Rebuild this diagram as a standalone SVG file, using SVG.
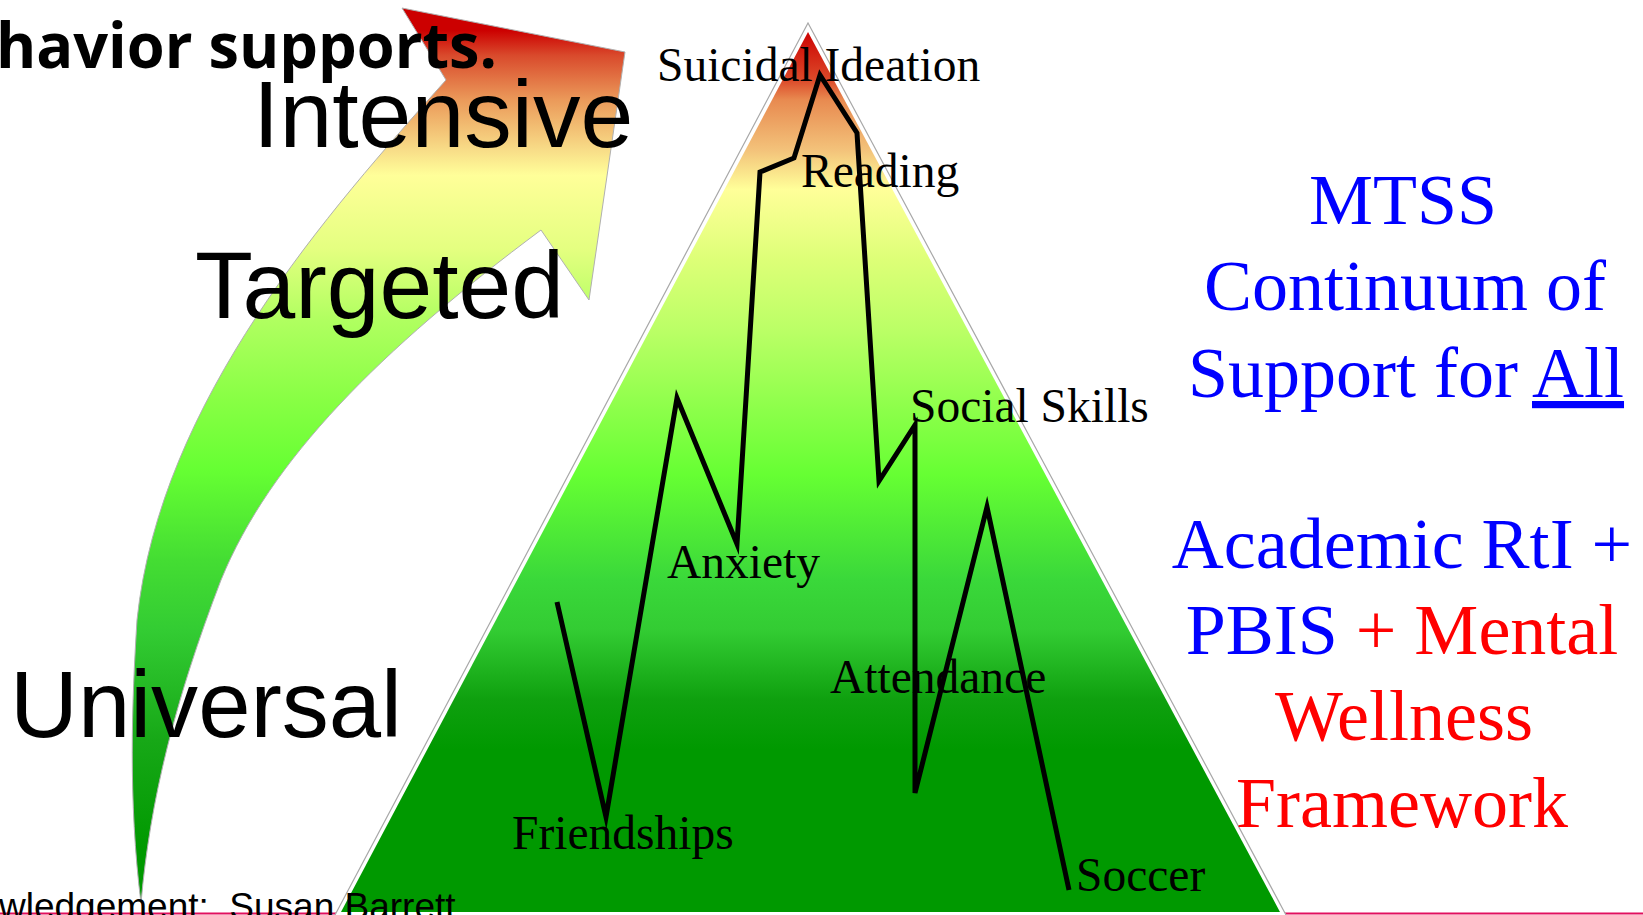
<svg xmlns="http://www.w3.org/2000/svg" width="1643" height="915" viewBox="0 0 1643 915">
  <defs>
    <!-- vertical tier colouring: red (intensive) to green (universal) -->
    <linearGradient id="arrowGrad" gradientUnits="userSpaceOnUse" x1="0" y1="8" x2="0" y2="903">
      <stop offset="0" stop-color="#cc0000"/>
      <stop offset="0.025" stop-color="#cc0000"/>
      <stop offset="0.053" stop-color="#d94a2c"/>
      <stop offset="0.103" stop-color="#eb9a5a"/>
      <stop offset="0.159" stop-color="#f8dd88"/>
      <stop offset="0.187" stop-color="#ffff99"/>
      <stop offset="0.270" stop-color="#e4ff80"/>
      <stop offset="0.349" stop-color="#b0ff60"/>
      <stop offset="0.438" stop-color="#88ff44"/>
      <stop offset="0.516" stop-color="#66ff33"/>
      <stop offset="0.617" stop-color="#44dd33"/>
      <stop offset="0.695" stop-color="#33cc33"/>
      <stop offset="0.818" stop-color="#17a817"/>
      <stop offset="0.941" stop-color="#009900"/>
      <stop offset="1" stop-color="#009900"/>
    </linearGradient>
    <linearGradient id="pyrGrad" gradientUnits="userSpaceOnUse" x1="0" y1="31" x2="0" y2="912">
      <stop offset="0" stop-color="#cc0000"/>
      <stop offset="0.056" stop-color="#dc4a2a"/>
      <stop offset="0.078" stop-color="#e88a50"/>
      <stop offset="0.135" stop-color="#f3c27a"/>
      <stop offset="0.180" stop-color="#ffff99"/>
      <stop offset="0.260" stop-color="#ddff77"/>
      <stop offset="0.339" stop-color="#bbff66"/>
      <stop offset="0.504" stop-color="#66ff33"/>
      <stop offset="0.623" stop-color="#3ad83a"/>
      <stop offset="0.680" stop-color="#33cc33"/>
      <stop offset="0.759" stop-color="#0fa00f"/>
      <stop offset="0.816" stop-color="#009900"/>
      <stop offset="1" stop-color="#009900"/>
    </linearGradient>
    <style>
      .tier { font-family: "Liberation Sans", Arial, sans-serif; font-size: 95px; fill: #000; }
      .issue { font-family: "Liberation Serif", "Times New Roman", serif; font-size: 47.5px; fill: #000; }
      .side { font-family: "Liberation Serif", "Times New Roman", serif; font-size: 72px; text-anchor: middle; }
      .blue { fill: #0000ff; }
      .red { fill: #ff0000; }
      .trend { fill: none; stroke: #000; stroke-width: 5; stroke-linejoin: miter; stroke-miterlimit: 6; }
      .edge { fill: none; stroke: #a8a8a8; stroke-width: 1.2; }
    </style>
  </defs>

  <rect width="1643" height="915" fill="#ffffff"/>

  <!-- footer rule -->
  <line x1="0" y1="913.5" x2="1643" y2="913.5" stroke="#e2105e" stroke-width="2"/>

  <!-- curved tier arrow -->
  <g id="tier-arrow">
    <path d="M 402,8 L 625,52 L 589,300 L 541,230 C 380,350 270,460 221,580 C 175,700 150,800 141,903 C 128,800 132,700 137,620 C 160,400 330,210 446,80 Z"
          fill="url(#arrowGrad)" stroke="#b0b0b0" stroke-width="1"/>
  </g>

  <!-- support pyramid -->
  <g id="pyramid">
    <polygon points="808,23 335,915 1286,915" fill="#ffffff"/>
    <polyline class="edge" points="335,915 808,23 1286,915"/>
    <polygon points="808,32 341,912 1280,912" fill="url(#pyrGrad)"/>
  </g>

  <!-- student need trace across the tiers -->
  <g id="connectors">
    <polyline class="trend" points="557,602 606,817 677,398 737,544 760,172 794,158 820,75 857,133 879,481 915,425 915,793 987,507 1069,890"/>
  </g>

  <!-- need labels -->
  <g id="label-suicidal"><text class="issue" x="657" y="81">Suicidal Ideation</text></g>
  <g id="label-reading"><text class="issue" x="801" y="187">Reading</text></g>
  <g id="label-social"><text class="issue" x="910" y="422">Social Skills</text></g>
  <g id="label-anxiety"><text class="issue" x="667" y="578">Anxiety</text></g>
  <g id="label-attendance"><text class="issue" x="830" y="693">Attendance</text></g>
  <g id="label-friendships"><text class="issue" x="512" y="849">Friendships</text></g>
  <g id="label-soccer"><text class="issue" x="1076" y="891">Soccer</text></g>

  <!-- tier names -->
  <g id="tier-intensive"><text class="tier" x="253" y="147">Intensive</text></g>
  <g id="tier-targeted"><text class="tier" x="195" y="318" textLength="369" lengthAdjust="spacingAndGlyphs">Targeted</text></g>
  <g id="tier-universal"><text class="tier" x="10" y="737" textLength="392" lengthAdjust="spacingAndGlyphs">Universal</text></g>

  <!-- heading fragment and credit -->
  <g id="heading"><text x="-4" y="68" font-family="'Open Sans', 'Noto Sans', sans-serif" font-weight="bold" font-size="63" textLength="501" lengthAdjust="spacingAndGlyphs">havior supports.</text></g>
  <g id="credit"><text x="-1" y="919" font-family="'Liberation Sans', Arial, sans-serif" font-size="37" xml:space="preserve">wledgement:  Susan Barrett</text></g>

  <!-- framework caption -->
  <g id="caption-mtss">
    <text class="side blue" x="1403" y="224">MTSS</text>
    <text class="side blue" x="1405" y="310">Continuum of</text>
    <text class="side blue" x="1406" y="397">Support for <tspan text-decoration="underline">All</tspan></text>
  </g>
  <g id="caption-framework">
    <text class="side blue" x="1402" y="568">Academic RtI +</text>
    <text class="side" x="1402" y="654"><tspan class="blue">PBIS</tspan><tspan class="red"> + Mental</tspan></text>
    <text class="side red" x="1404" y="740">Wellness</text>
    <text class="side red" x="1402" y="827">Framework</text>
  </g>
</svg>
